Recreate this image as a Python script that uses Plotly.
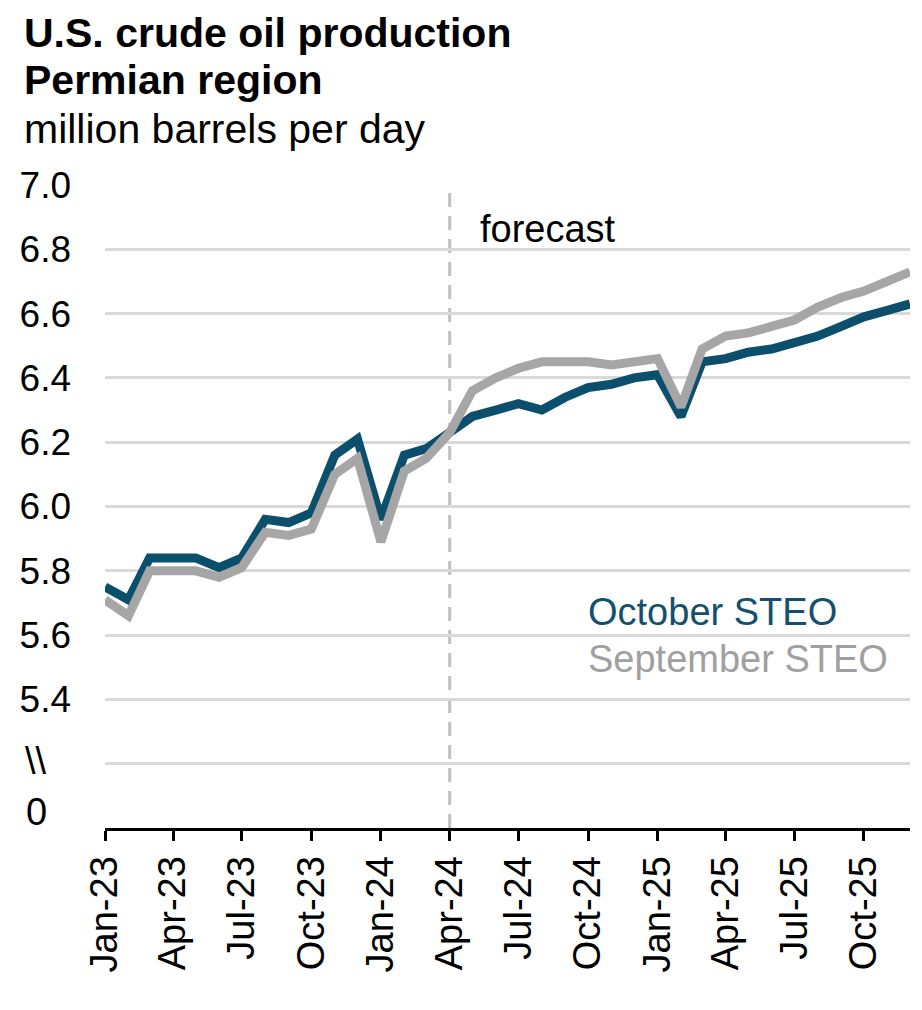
import plotly.graph_objects as go
import pandas as pd

months = pd.date_range("2023-01-01", "2025-12-01", freq="MS")

october_steo = [5.75, 5.71, 5.84, 5.84, 5.84, 5.81, 5.84, 5.96, 5.95, 5.98, 6.16, 6.21,
                5.96, 6.16, 6.18, 6.23, 6.28, 6.30, 6.32, 6.30, 6.34, 6.37, 6.38, 6.40,
                6.41, 6.28, 6.45, 6.46, 6.48, 6.49, 6.51, 6.53, 6.56, 6.59, 6.61, 6.63]
september_steo = [5.71, 5.66, 5.80, 5.80, 5.80, 5.78, 5.81, 5.92, 5.91, 5.93, 6.10, 6.15,
                  5.89, 6.11, 6.15, 6.23, 6.36, 6.40, 6.43, 6.45, 6.45, 6.45, 6.44, 6.45,
                  6.46, 6.31, 6.49, 6.53, 6.54, 6.56, 6.58, 6.62, 6.65, 6.67, 6.70, 6.73]

y_tickvals = [5.2, 5.4, 5.6, 5.8, 6.0, 6.2, 6.4, 6.6, 6.8, 7.0]
y_ticktext = ["", "5.4", "5.6", "5.8", "6.0", "6.2", "6.4", "6.6", "6.8", "7.0"]
forecast_start = "2024-04-01"

BLUE = "#0b4f6c"
GRAY = "#a6a6a6"
FONT = "Liberation Sans, Arial, sans-serif"

fig = go.Figure()
fig.add_trace(go.Scatter(x=months, y=october_steo, mode="lines",
                         line=dict(color=BLUE, width=9), name="October STEO"))
fig.add_trace(go.Scatter(x=months, y=september_steo, mode="lines",
                         line=dict(color=GRAY, width=9), name="September STEO"))

fig.add_shape(type="line", xref="x", yref="paper", x0=forecast_start, x1=forecast_start,
              y0=0, y1=1, line=dict(color="#bfbfbf", width=3, dash="14px,9px"), layer="below")

OFF = 8  # page body margin
W, H = 922 - OFF, 1010 - OFF
ml, mt = 102 - OFF, 185 - OFF
mr = W - (910 - OFF)
mb = H - (828 - OFF)
pw, ph = W - ml - mr, H - mt - mb

def px(x):
    return (x - OFF - ml) / pw

def py(y):
    return (H - mb - (y - OFF)) / ph

annos = [
    dict(text="<b>U.S. crude oil production</b>", x=px(19), y=py(33), size=41, color="#000000"),
    dict(text="<b>Permian region</b>", x=px(19), y=py(80), size=41, color="#000000"),
    dict(text="million barrels per day", x=px(19), y=py(129), size=41, color="#000000"),
    dict(text="forecast", x=px(476), y=py(229), size=38, color="#000000"),
    dict(text="October STEO", x=px(585), y=py(612), size=38, color="#14506e"),
    dict(text="September STEO", x=px(585), y=py(659), size=38, color="#a0a0a0"),
]
for a in annos:
    fig.add_annotation(text=a["text"], xref="paper", yref="paper", x=a["x"], y=a["y"],
                       xanchor="left", yanchor="middle", showarrow=False,
                       font=dict(family=FONT, size=a["size"], color=a["color"]))

for txt, yy in [("\\\\", 761), ("0", 812)]:
    fig.add_annotation(text=txt, xref="paper", yref="paper", x=px(33), y=py(yy),
                       xanchor="center", yanchor="middle", showarrow=False,
                       font=dict(family=FONT, size=38, color="#000000"))

fig.update_layout(
    width=W, height=H,
    margin=dict(l=ml, r=mr, t=mt, b=mb),
    paper_bgcolor="white", plot_bgcolor="white",
    showlegend=False,
    font=dict(family=FONT, size=38, color="#000000"),
)
fig.update_xaxes(
    range=["2023-01-01", "2025-12-01"],
    dtick="M3", tick0="2023-01-01", tickformat="%b-%y", tickangle=-90,
    showgrid=False, showline=True, linecolor="#000000", linewidth=3,
    ticks="outside", ticklen=10, tickwidth=3, tickcolor="#000000",
    tickfont=dict(family=FONT, size=38, color="#000000"),
    zeroline=False,
)
fig.update_yaxes(
    range=[5.0, 7.0], tickvals=y_tickvals, ticktext=y_ticktext,
    showgrid=True, gridcolor="#d9d9d9", gridwidth=3,
    showline=False, zeroline=False, ticks="",
    ticklabelstandoff=33,
    tickfont=dict(family=FONT, size=37, color="#000000"),
)

fig.write_html("out.html")
